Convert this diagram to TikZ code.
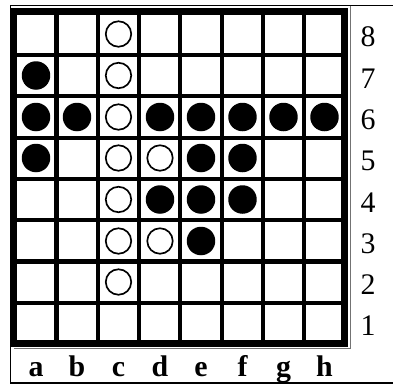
\documentclass[tikz,border=0pt]{standalone}
\usepackage{fontspec}
\setmainfont{Liberation Serif}
\tikzset{
  wdisc/.style={circle, draw, line width=0.95pt, fill=white, minimum size=0.51cm, inner sep=0pt},
  bdisc/.style={circle, fill=black, minimum size=0.57cm, inner sep=0pt},
  rank/.style={anchor=base, inner sep=0pt, font=\fontsize{17}{19}\selectfont},
  file/.style={anchor=base, inner sep=0pt, font=\fontsize{17}{19}\selectfont\bfseries}
}

\begin{document}
\begin{tikzpicture}[x=0.02cm, y=-0.02cm]
  \useasboundingbox (0,0) rectangle (393,386);
  % frame
  \draw[line width=0.85pt] (10.5,383) -- (10.5,5.5) -- (393,5.5);
  \draw[line width=1.4pt] (10,383) -- (393,383);
  \draw[black!55, line width=0.7pt] (350.5,5.5) -- (350.5,348.5) -- (14,348.5);
  % board
  \draw[line width=4pt] (13.5,11.5) rectangle (344.5,343.5);
  \draw[line width=2.3pt] (56.5,15) -- (56.5,340);
  \draw[line width=2.3pt] (97.8,15) -- (97.8,340);
  \draw[line width=2.3pt] (139.1,15) -- (139.1,340);
  \draw[line width=2.3pt] (180.4,15) -- (180.4,340);
  \draw[line width=2.3pt] (221.7,15) -- (221.7,340);
  \draw[line width=2.3pt] (263,15) -- (263,340);
  \draw[line width=2.3pt] (304.3,15) -- (304.3,340);
  \draw[line width=2.3pt] (17,55) -- (341,55);
  \draw[line width=2.3pt] (17,96.3) -- (341,96.3);
  \draw[line width=2.3pt] (17,137.6) -- (341,137.6);
  \draw[line width=2.3pt] (17,178.9) -- (341,178.9);
  \draw[line width=2.3pt] (17,220.2) -- (341,220.2);
  \draw[line width=2.3pt] (17,261.5) -- (341,261.5);
  \draw[line width=2.3pt] (17,302.8) -- (341,302.8);
  % white discs
  \node[wdisc] (c8) at (118.5,34) {};
  \node[wdisc] (c7) at (118.5,75.5) {};
  \node[wdisc] (c6) at (118.5,117) {};
  \node[wdisc] (c5) at (118.5,158) {};
  \node[wdisc] (d5) at (160,158) {};
  \node[wdisc] (c4) at (118.5,199.5) {};
  \node[wdisc] (c3) at (118.5,241) {};
  \node[wdisc] (d3) at (160,241) {};
  \node[wdisc] (c2) at (118.5,282) {};
  % black discs
  \node[bdisc] (a7) at (36,75.5) {};
  \node[bdisc] (a6) at (36,117) {};
  \node[bdisc] (b6) at (77,117) {};
  \node[bdisc] (d6) at (160,117) {};
  \node[bdisc] (e6) at (201,117) {};
  \node[bdisc] (f6) at (242.5,117) {};
  \node[bdisc] (g6) at (283.5,117) {};
  \node[bdisc] (h6) at (324.5,117) {};
  \node[bdisc] (a5) at (36,158) {};
  \node[bdisc] (e5) at (201,158) {};
  \node[bdisc] (f5) at (242.5,158) {};
  \node[bdisc] (d4) at (160,199.5) {};
  \node[bdisc] (e4) at (201,199.5) {};
  \node[bdisc] (f4) at (242.5,199.5) {};
  \node[bdisc] (e3) at (201,241) {};
  % ranks
  \node[rank] (r8) at (368,46.5) {8};
  \node[rank] (r7) at (368,88) {7};
  \node[rank] (r6) at (368,129.5) {6};
  \node[rank] (r5) at (368,170.5) {5};
  \node[rank] (r4) at (368,212) {4};
  \node[rank] (r3) at (368,253.5) {3};
  \node[rank] (r2) at (368,294.5) {2};
  \node[rank] (r1) at (368,335) {1};
  % files
  \node[file] (fa) at (36,376) {a};
  \node[file] (fb) at (77,376) {b};
  \node[file] (fc) at (118.5,376) {c};
  \node[file] (fd) at (160,376) {d};
  \node[file] (fe) at (201,376) {e};
  \node[file] (ff) at (242.5,376) {f};
  \node[file] (fg) at (283.5,376) {g};
  \node[file] (fh) at (324.5,376) {h};
\end{tikzpicture}
\end{document}
